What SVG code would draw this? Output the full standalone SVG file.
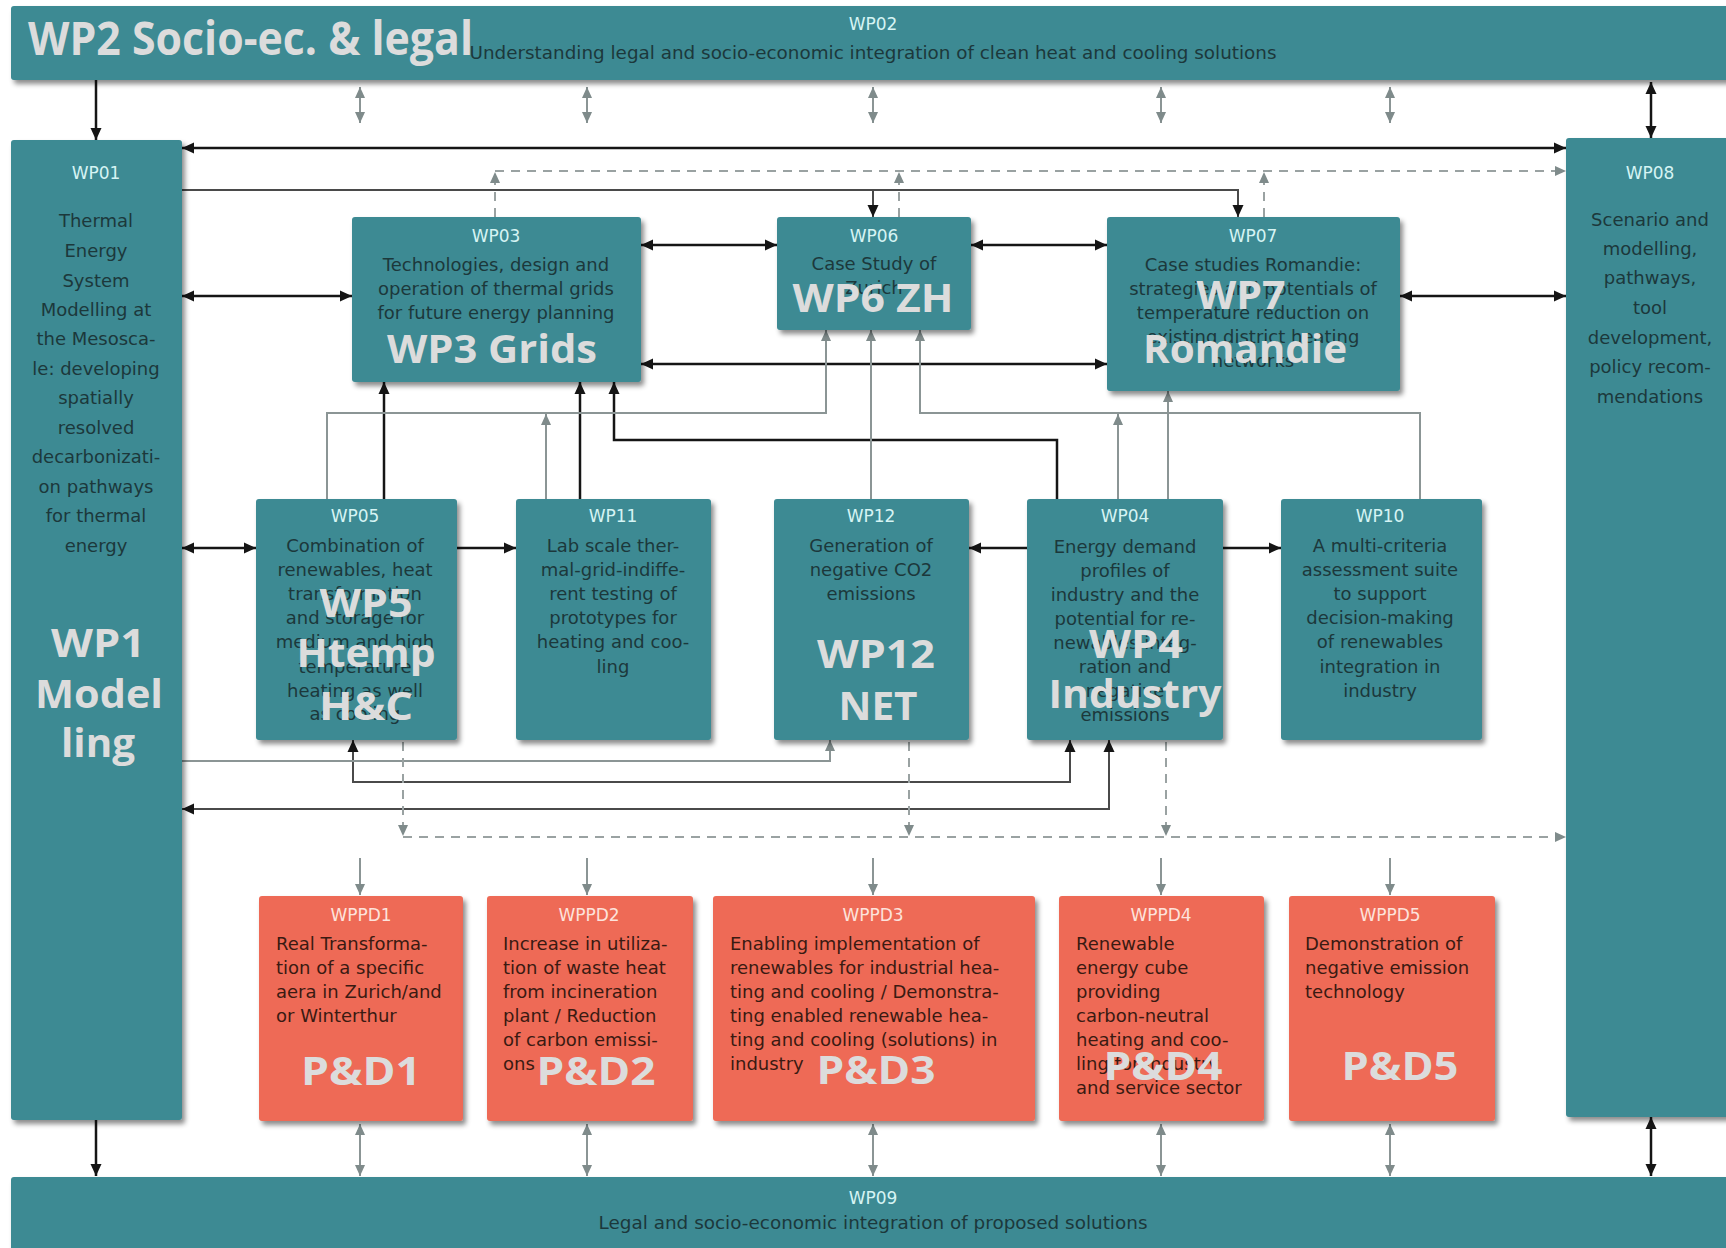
<svg xmlns="http://www.w3.org/2000/svg" width="1726" height="1248" viewBox="0 0 1726 1248">
<defs>
<style>
.box{fill:#3c8a93;filter:url(#sh)}
.pd{fill:#ee6b56;filter:url(#sh)}
.lbl{font-family:'DejaVu Sans',sans-serif;font-size:17px;fill:#d6f4f4;text-anchor:middle}
.plbl{font-family:'DejaVu Sans',sans-serif;font-size:17px;fill:#fde3dc;text-anchor:middle}
.t{font-family:'DejaVu Sans',sans-serif;font-size:18px;fill:#1c383b;text-anchor:middle}
.pt{font-family:'DejaVu Sans',sans-serif;font-size:18px;fill:#3a1a12;text-anchor:start}
.bar{font-family:'DejaVu Sans',sans-serif;font-size:17px;fill:#1c383b;text-anchor:middle}
.big{font-family:'Open Sans',sans-serif;font-weight:700;font-size:40px;fill:#dcdcdc;text-anchor:middle}
.k{stroke:#151515;stroke-width:2.5;fill:none}
.k2{stroke:#4a4a4a;stroke-width:2;fill:none}
.g{stroke:#8b9595;stroke-width:2;fill:none}
.d{stroke:#9aa2a2;stroke-width:2;stroke-dasharray:9 7;fill:none}
</style>
<filter id="sh" x="-10%" y="-10%" width="125%" height="125%">
<feDropShadow dx="3" dy="4" stdDeviation="2.5" flood-color="#000" flood-opacity="0.45"/>
</filter>
<marker id="mk" viewBox="0 0 12 12" refX="12" refY="6" markerWidth="12" markerHeight="12" markerUnits="userSpaceOnUse" orient="auto-start-reverse">
<path d="M0,0.5 L12,6 L0,11.5 z" fill="#151515"/>
</marker>
<marker id="mg" viewBox="0 0 12 12" refX="12" refY="6" markerWidth="11" markerHeight="11" markerUnits="userSpaceOnUse" orient="auto-start-reverse">
<path d="M0,0.5 L12,6 L0,11.5 z" fill="#7f8b8b"/>
</marker>
</defs>
<rect width="1726" height="1248" fill="#ffffff"/>

<g id="connectors">
<!-- black -->
<path class="k" d="M96,80 V140" marker-end="url(#mk)"/>
<path class="k" d="M182,148 H1566" marker-start="url(#mk)" marker-end="url(#mk)"/>
<path class="k" d="M182,296 H352" marker-start="url(#mk)" marker-end="url(#mk)"/>
<path class="k" d="M641,245 H777" marker-start="url(#mk)" marker-end="url(#mk)"/>
<path class="k" d="M971,245 H1107" marker-start="url(#mk)" marker-end="url(#mk)"/>
<path class="k" d="M641,364 H1107" marker-start="url(#mk)" marker-end="url(#mk)"/>
<path class="k" d="M1400,296 H1566" marker-start="url(#mk)" marker-end="url(#mk)"/>
<path class="k" d="M182,548 H256" marker-start="url(#mk)" marker-end="url(#mk)"/>
<path class="k" d="M457,548 H516" marker-end="url(#mk)"/>
<path class="k" d="M1027,548 H969" marker-end="url(#mk)"/>
<path class="k" d="M1223,548 H1281" marker-end="url(#mk)"/>
<path class="k" d="M384,499 V382" marker-end="url(#mk)"/>
<path class="k" d="M580,499 V382" marker-end="url(#mk)"/>
<path class="k" d="M1057,499 V440 H614 V382" marker-end="url(#mk)"/>
<path class="k2" d="M353,740 V782 H1070 V740" marker-start="url(#mk)" marker-end="url(#mk)"/>
<path class="k2" d="M182,809 H1109 V740" marker-start="url(#mk)" marker-end="url(#mk)"/>
<path class="k" d="M96,1120 V1176" marker-end="url(#mk)"/>
<path class="k" d="M1651,1117 V1176" marker-start="url(#mk)" marker-end="url(#mk)"/>
<path class="k" d="M1651,82 V138" marker-start="url(#mk)" marker-end="url(#mk)"/>
<path class="k2" d="M182,190 H1238 V217" marker-end="url(#mk)"/>
<path class="k2" d="M873,190 V217" marker-end="url(#mk)"/>
<!-- gray solid -->
<path class="g" d="M327,499 V413 H826 V330" marker-end="url(#mg)"/>
<path class="g" d="M546,499 V414" marker-end="url(#mg)"/>
<path class="g" d="M871,499 V330" marker-end="url(#mg)"/>
<path class="g" d="M1420,499 V413 H920 V330" marker-end="url(#mg)"/>
<path class="g" d="M1118,499 V414" marker-end="url(#mg)"/>
<path class="g" d="M1168,499 V391" marker-end="url(#mg)"/>
<path class="g" d="M182,761 H830 V740" marker-end="url(#mg)"/>
<path class="g" d="M360,87 V123" marker-start="url(#mg)" marker-end="url(#mg)"/>
<path class="g" d="M587,87 V123" marker-start="url(#mg)" marker-end="url(#mg)"/>
<path class="g" d="M873,87 V123" marker-start="url(#mg)" marker-end="url(#mg)"/>
<path class="g" d="M1161,87 V123" marker-start="url(#mg)" marker-end="url(#mg)"/>
<path class="g" d="M1390,87 V123" marker-start="url(#mg)" marker-end="url(#mg)"/>
<path class="g" d="M360,858 V895" marker-end="url(#mg)"/>
<path class="g" d="M587,858 V895" marker-end="url(#mg)"/>
<path class="g" d="M873,858 V895" marker-end="url(#mg)"/>
<path class="g" d="M1161,858 V895" marker-end="url(#mg)"/>
<path class="g" d="M1390,858 V895" marker-end="url(#mg)"/>
<path class="g" d="M360,1124 V1176" marker-start="url(#mg)" marker-end="url(#mg)"/>
<path class="g" d="M587,1124 V1176" marker-start="url(#mg)" marker-end="url(#mg)"/>
<path class="g" d="M873,1124 V1176" marker-start="url(#mg)" marker-end="url(#mg)"/>
<path class="g" d="M1161,1124 V1176" marker-start="url(#mg)" marker-end="url(#mg)"/>
<path class="g" d="M1390,1124 V1176" marker-start="url(#mg)" marker-end="url(#mg)"/>
<!-- dashed -->
<path class="d" d="M495,217 V172" marker-end="url(#mg)"/>
<path class="d" d="M899,217 V172" marker-end="url(#mg)"/>
<path class="d" d="M1264,217 V172" marker-end="url(#mg)"/>
<path class="d" d="M495,171 H1566" marker-end="url(#mg)"/>
<path class="d" d="M403,742 V836" marker-end="url(#mg)"/>
<path class="d" d="M909,742 V836" marker-end="url(#mg)"/>
<path class="d" d="M1166,742 V836" marker-end="url(#mg)"/>
<path class="d" d="M403,837 H1566" marker-end="url(#mg)"/>
</g>

<g id="wp02">
<rect class="box" x="11" y="6" width="1730" height="74" rx="3"/>
<text class="lbl" x="873" y="30">WP02</text>
<text class="bar" x="873" y="59" textLength="807" lengthAdjust="spacingAndGlyphs">Understanding legal and socio-economic integration of clean heat and cooling solutions</text>
<text class="big" x="28" y="55" style="text-anchor:start;font-size:46px" textLength="445" lengthAdjust="spacingAndGlyphs">WP2 Socio-ec. &amp; legal</text>
</g>

<g id="wp09">
<rect class="box" x="11" y="1177" width="1730" height="80" rx="3"/>
<text class="lbl" x="873" y="1204">WP09</text>
<text class="bar" x="873" y="1229" textLength="549" lengthAdjust="spacingAndGlyphs">Legal and socio-economic integration of proposed solutions</text>
</g>

<g id="wp01">
<rect class="box" x="11" y="140" width="171" height="980" rx="3"/>
<text class="lbl" x="96" y="179">WP01</text>
<text class="t" x="96" y="227">Thermal</text>
<text class="t" x="96" y="257">Energy</text>
<text class="t" x="96" y="287">System</text>
<text class="t" x="96" y="316">Modelling at</text>
<text class="t" x="96" y="345">the Mesosca-</text>
<text class="t" x="96" y="375">le: developing</text>
<text class="t" x="96" y="404">spatially</text>
<text class="t" x="96" y="434">resolved</text>
<text class="t" x="96" y="463">decarbonizati-</text>
<text class="t" x="96" y="493">on pathways</text>
<text class="t" x="96" y="522">for thermal</text>
<text class="t" x="96" y="552">energy</text>
<text class="big" x="98" y="657" textLength="94" lengthAdjust="spacingAndGlyphs">WP1</text>
<text class="big" x="99" y="708" textLength="128" lengthAdjust="spacingAndGlyphs">Model</text>
<text class="big" x="98" y="757" textLength="74" lengthAdjust="spacingAndGlyphs">ling</text>
</g>

<g id="wp08">
<rect class="box" x="1566" y="138" width="175" height="979" rx="3"/>
<text class="lbl" x="1650" y="179">WP08</text>
<text class="t" x="1650" y="226">Scenario and</text>
<text class="t" x="1650" y="255">modelling,</text>
<text class="t" x="1650" y="284">pathways,</text>
<text class="t" x="1650" y="314">tool</text>
<text class="t" x="1650" y="344">development,</text>
<text class="t" x="1650" y="373">policy recom-</text>
<text class="t" x="1650" y="403">mendations</text>
</g>

<g id="wp03">
<rect class="box" x="352" y="217" width="289" height="165" rx="3"/>
<text class="lbl" x="496" y="242">WP03</text>
<text class="t" x="496" y="271">Technologies, design and</text>
<text class="t" x="496" y="295">operation of thermal grids</text>
<text class="t" x="496" y="319">for future energy planning</text>
<text class="big" x="492" y="363" textLength="210" lengthAdjust="spacingAndGlyphs">WP3 Grids</text>
</g>

<g id="wp06">
<rect class="box" x="777" y="217" width="194" height="113" rx="3"/>
<text class="lbl" x="874" y="242">WP06</text>
<text class="t" x="874" y="270">Case Study of</text>
<text class="t" x="874" y="294">Zurich</text>
<text class="big" x="873" y="312" textLength="161" lengthAdjust="spacingAndGlyphs">WP6 ZH</text>
</g>

<g id="wp07">
<rect class="box" x="1107" y="217" width="293" height="174" rx="3"/>
<text class="lbl" x="1253" y="242">WP07</text>
<text class="t" x="1253" y="271">Case studies Romandie:</text>
<text class="t" x="1253" y="295">strategies and potentials of</text>
<text class="t" x="1253" y="319">temperature reduction on</text>
<text class="t" x="1253" y="343">existing district heating</text>
<text class="t" x="1253" y="367">networks</text>
<text class="big" x="1241" y="309" textLength="89" lengthAdjust="spacingAndGlyphs">WP7</text>
<text class="big" x="1245" y="363" textLength="204" lengthAdjust="spacingAndGlyphs">Romandie</text>
</g>

<g id="wp05">
<rect class="box" x="256" y="499" width="201" height="241" rx="3"/>
<text class="lbl" x="355" y="522">WP05</text>
<text class="t" x="355" y="552">Combination of</text>
<text class="t" x="355" y="576">renewables, heat</text>
<text class="t" x="355" y="600">transformation</text>
<text class="t" x="355" y="624">and storage for</text>
<text class="t" x="355" y="648">medium and high</text>
<text class="t" x="355" y="673">temperature</text>
<text class="t" x="355" y="697">heating as well</text>
<text class="t" x="355" y="720">as cooling</text>
<text class="big" x="366" y="617" textLength="93" lengthAdjust="spacingAndGlyphs">WP5</text>
<text class="big" x="366" y="667" textLength="139" lengthAdjust="spacingAndGlyphs">Htemp</text>
<text class="big" x="366" y="720" textLength="94" lengthAdjust="spacingAndGlyphs">H&amp;C</text>
</g>

<g id="wp11">
<rect class="box" x="516" y="499" width="195" height="241" rx="3"/>
<text class="lbl" x="613" y="522">WP11</text>
<text class="t" x="613" y="552">Lab scale ther-</text>
<text class="t" x="613" y="576">mal-grid-indiffe-</text>
<text class="t" x="613" y="600">rent testing of</text>
<text class="t" x="613" y="624">prototypes for</text>
<text class="t" x="613" y="648">heating and coo-</text>
<text class="t" x="613" y="673">ling</text>
</g>

<g id="wp12">
<rect class="box" x="774" y="499" width="195" height="241" rx="3"/>
<text class="lbl" x="871" y="522">WP12</text>
<text class="t" x="871" y="552">Generation of</text>
<text class="t" x="871" y="576">negative CO2</text>
<text class="t" x="871" y="600">emissions</text>
<text class="big" x="876" y="668" textLength="118" lengthAdjust="spacingAndGlyphs">WP12</text>
<text class="big" x="878" y="720" textLength="79" lengthAdjust="spacingAndGlyphs">NET</text>
</g>

<g id="wp04">
<rect class="box" x="1027" y="499" width="196" height="241" rx="3"/>
<text class="lbl" x="1125" y="522">WP04</text>
<text class="t" x="1125" y="553">Energy demand</text>
<text class="t" x="1125" y="577">profiles of</text>
<text class="t" x="1125" y="601">industry and the</text>
<text class="t" x="1125" y="625">potential for re-</text>
<text class="t" x="1125" y="649">newables integ-</text>
<text class="t" x="1125" y="673">ration and</text>
<text class="t" x="1125" y="697">negative</text>
<text class="t" x="1125" y="721">emissions</text>
<text class="big" x="1136" y="658" textLength="94" lengthAdjust="spacingAndGlyphs">WP4</text>
<text class="big" x="1135" y="708" textLength="173" lengthAdjust="spacingAndGlyphs">Industry</text>
</g>

<g id="wp10">
<rect class="box" x="1281" y="499" width="201" height="241" rx="3"/>
<text class="lbl" x="1380" y="522">WP10</text>
<text class="t" x="1380" y="552">A multi-criteria</text>
<text class="t" x="1380" y="576">assessment suite</text>
<text class="t" x="1380" y="600">to support</text>
<text class="t" x="1380" y="624">decision-making</text>
<text class="t" x="1380" y="648">of renewables</text>
<text class="t" x="1380" y="673">integration in</text>
<text class="t" x="1380" y="697">industry</text>
</g>

<g id="wppd1">
<rect class="pd" x="259" y="896" width="204" height="225" rx="3"/>
<text class="plbl" x="361" y="921">WPPD1</text>
<text class="pt" x="276" y="950">Real Transforma-</text>
<text class="pt" x="276" y="974">tion of a specific</text>
<text class="pt" x="276" y="998">aera in Zurich/and</text>
<text class="pt" x="276" y="1022">or Winterthur</text>
<text class="big" x="361" y="1085" textLength="120" lengthAdjust="spacingAndGlyphs">P&amp;D1</text>
</g>

<g id="wppd2">
<rect class="pd" x="487" y="896" width="206" height="225" rx="3"/>
<text class="plbl" x="589" y="921">WPPD2</text>
<text class="pt" x="503" y="950">Increase in utiliza-</text>
<text class="pt" x="503" y="974">tion of waste heat</text>
<text class="pt" x="503" y="998">from incineration</text>
<text class="pt" x="503" y="1022">plant / Reduction</text>
<text class="pt" x="503" y="1046">of carbon emissi-</text>
<text class="pt" x="503" y="1070">ons</text>
<text class="big" x="596" y="1085" textLength="119" lengthAdjust="spacingAndGlyphs">P&amp;D2</text>
</g>

<g id="wppd3">
<rect class="pd" x="713" y="896" width="322" height="225" rx="3"/>
<text class="plbl" x="873" y="921">WPPD3</text>
<text class="pt" x="730" y="950">Enabling implementation of</text>
<text class="pt" x="730" y="974">renewables for industrial hea-</text>
<text class="pt" x="730" y="998">ting and cooling / Demonstra-</text>
<text class="pt" x="730" y="1022">ting enabled renewable hea-</text>
<text class="pt" x="730" y="1046">ting and cooling (solutions) in</text>
<text class="pt" x="730" y="1070">industry</text>
<text class="big" x="876" y="1084" textLength="119" lengthAdjust="spacingAndGlyphs">P&amp;D3</text>
</g>

<g id="wppd4">
<rect class="pd" x="1059" y="896" width="205" height="225" rx="3"/>
<text class="plbl" x="1161" y="921">WPPD4</text>
<text class="pt" x="1076" y="950">Renewable</text>
<text class="pt" x="1076" y="974">energy cube</text>
<text class="pt" x="1076" y="998">providing</text>
<text class="pt" x="1076" y="1022">carbon-neutral</text>
<text class="pt" x="1076" y="1046">heating and coo-</text>
<text class="pt" x="1076" y="1070">ling for industry</text>
<text class="pt" x="1076" y="1094">and service sector</text>
<text class="big" x="1163" y="1080" textLength="119" lengthAdjust="spacingAndGlyphs">P&amp;D4</text>
</g>

<g id="wppd5">
<rect class="pd" x="1289" y="896" width="206" height="225" rx="3"/>
<text class="plbl" x="1390" y="921">WPPD5</text>
<text class="pt" x="1305" y="950">Demonstration of</text>
<text class="pt" x="1305" y="974">negative emission</text>
<text class="pt" x="1305" y="998">technology</text>
<text class="big" x="1400" y="1080" textLength="117" lengthAdjust="spacingAndGlyphs">P&amp;D5</text>
</g>
</svg>
